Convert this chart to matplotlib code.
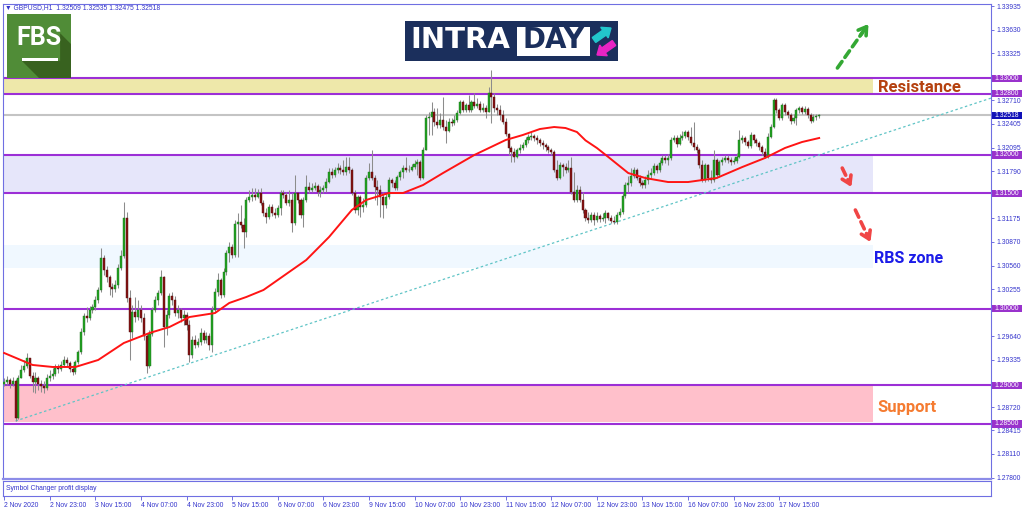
import matplotlib
matplotlib.use('Agg')
import matplotlib.pyplot as plt
import numpy as np
from matplotlib.patches import Rectangle, Polygon, FancyArrow
import matplotlib.transforms as mtransforms

# ---------------- data (prices in 1e-5 units) ----------------
first_open_p5 = 129020
close_p5 = [
    129046, 129072, 129020, 129059, 128577, 129098, 129202, 129254, 129358, 129124,
    129046, 129098, 129020, 128994, 128968, 129098, 129124, 129150, 129228, 129215,
    129267, 129332, 129293, 129215, 129176, 129306, 129436, 129696, 129905, 129879,
    129983, 130022, 130113, 130243, 130659, 130503, 130412, 130282, 130256, 130308,
    130529, 130685, 131180, 130139, 129696, 129957, 129892, 129983, 129879, 129644,
    129254, 129670, 129983, 130113, 130204, 130412, 129761, 129918, 130165, 130113,
    129944, 129983, 129879, 129918, 129787, 129397, 129592, 129527, 129566, 129683,
    129592, 129644, 129527, 129983, 130217, 130373, 130178, 130477, 130724, 130803,
    130698, 131102, 131128, 131089, 130998, 131414, 131453, 131479, 131453, 131505,
    131375, 131245, 131193, 131323, 131245, 131219, 131310, 131505, 131479, 131375,
    131414, 131115, 131505, 131414, 131219, 131414, 131583, 131544, 131570, 131596,
    131518, 131544, 131570, 131648, 131779, 131740, 131805, 131831, 131805, 131779,
    131844, 131805, 131505, 131284, 131453, 131323, 131349, 131701, 131779, 131701,
    131583, 131544, 131453, 131349, 131453, 131674, 131635, 131570, 131714, 131779,
    131831, 131805, 131805, 131844, 131883, 131909, 131701, 132065, 132481, 132494,
    132559, 132429, 132390, 132455, 132364, 132312, 132429, 132416, 132455, 132546,
    132690, 132585, 132651, 132585, 132690, 132638, 132664, 132585, 132611, 132559,
    132807, 132755, 132611, 132585, 132520, 132429, 132273, 132091, 132039, 131974,
    132065, 132091, 132130, 132195, 132234, 132247, 132221, 132195, 132156, 132130,
    132104, 132065, 132039, 131805, 131701, 131870, 131844, 131805, 131831, 131518,
    131414, 131544, 131414, 131284, 131180, 131154, 131219, 131154, 131206, 131167,
    131180, 131245, 131180, 131141, 131128, 131219, 131258, 131466, 131609, 131635,
    131727, 131805, 131701, 131635, 131609, 131674, 131740, 131766, 131857, 131805,
    131896, 131961, 131935, 131961, 132195, 132221, 132143, 132221, 132247, 132299,
    132234, 132156, 132104, 132065, 131870, 131674, 131870, 131701, 131674, 131935,
    131740, 131909, 131935, 131961, 131935, 131909, 131922, 131974, 132195, 132221,
    132169, 132117, 132260, 132195, 132156, 132104, 132039, 131974, 132234, 132364,
    132716, 132585, 132481, 132651, 132559, 132520, 132442, 132481, 132585, 132611,
    132559, 132598, 132520, 132442, 132494, 132509, 132518,
]
high_p5 = [
    129098, 129124, 129098, 129111, 129085, 129137, 129267, 129332, 129423, 129358,
    129176, 129176, 129124, 129072, 129059, 129150, 129202, 129228, 129280, 129280,
    129319, 129384, 129371, 129319, 129267, 129332, 129462, 129748, 129944, 130022,
    130035, 130061, 130165, 130282, 130790, 130698, 130555, 130438, 130334, 130373,
    130581, 130764, 131388, 131258, 130243, 130048, 130152, 130113, 130048, 129944,
    129683, 129722, 130022, 130165, 130243, 130503, 130425, 129983, 130204, 130217,
    130165, 130048, 130009, 129983, 129957, 129853, 129644, 129657, 129618, 129748,
    129722, 129696, 129683, 130035, 130269, 130464, 130399, 130529, 130764, 130868,
    130842, 131154, 131245, 131349, 131180, 131453, 131544, 131570, 131570, 131557,
    131570, 131414, 131310, 131362, 131362, 131310, 131349, 131544, 131544, 131518,
    131544, 131505, 131740, 131505, 131440, 131453, 131740, 131648, 131635, 131648,
    131622, 131596, 131609, 131701, 131831, 131831, 131844, 131896, 131870, 131935,
    131974, 131974, 131831, 131544, 131479, 131479, 131440, 131740, 131896, 132065,
    131740, 131674, 131609, 131518, 131505, 131714, 131701, 131674, 131740, 131805,
    131870, 131974, 131870, 131883, 131935, 131948, 131935, 132104, 132520, 132559,
    132690, 132611, 132611, 132546, 132755, 132455, 132481, 132481, 132520, 132585,
    132716, 132716, 132677, 132781, 132716, 132807, 132742, 132703, 132677, 132651,
    132885, 133106, 132807, 132664, 132651, 132585, 132481, 132286, 132117, 132091,
    132091, 132143, 132169, 132234, 132273, 132299, 132273, 132260, 132221, 132195,
    132156, 132130, 132091, 132065, 131935, 131909, 131896, 131896, 131935, 131974,
    131779, 131609, 131596, 131518, 131310, 131258, 131258, 131258, 131258, 131232,
    131245, 131284, 131258, 131219, 131206, 131258, 131310, 131505, 131648, 131727,
    131831, 131844, 131831, 131740, 131674, 131727, 131805, 131831, 131896, 131883,
    131935, 132000, 132000, 132013, 132234, 132260, 132260, 132273, 132312, 132325,
    132325, 132364, 132429, 132143, 132091, 131935, 131896, 131883, 131805, 132065,
    131961, 131935, 131974, 132000, 132000, 131974, 131961, 132026, 132325, 132260,
    132247, 132195, 132299, 132273, 132221, 132182, 132130, 132091, 132286, 132403,
    132742, 132742, 132611, 132677, 132677, 132585, 132546, 132533, 132611, 132638,
    132638, 132638, 132625, 132546, 132533, 132533, 132535,
]
low_p5 = [
    128994, 129007, 128968, 128994, 128538, 128564, 129098, 129176, 129228, 129098,
    128916, 128902, 128942, 128916, 128902, 128942, 129059, 129085, 129124, 129163,
    129189, 129241, 129241, 129176, 129137, 129150, 129280, 129410, 129657, 129826,
    129853, 129944, 129983, 130074, 130217, 130438, 130347, 130178, 130152, 130217,
    130269, 130503, 130659, 130087, 129332, 129618, 129826, 129853, 129826, 129592,
    129163, 129228, 129644, 129957, 130048, 130178, 129501, 129657, 129879, 130048,
    129905, 129879, 129826, 129787, 129722, 129306, 129358, 129488, 129501, 129527,
    129553, 129553, 129462, 129436, 129957, 130165, 130139, 130152, 130438, 130607,
    130659, 130672, 130672, 131050, 130790, 130933, 131388, 131401, 131414, 131440,
    131349, 131206, 131115, 131167, 131206, 131180, 131193, 131219, 131440, 131349,
    131336, 130998, 131089, 131375, 131180, 131063, 131388, 131505, 131518, 131544,
    131466, 131453, 131505, 131518, 131635, 131701, 131714, 131766, 131753, 131740,
    131740, 131766, 131479, 131245, 131219, 131193, 131258, 131323, 131674, 131674,
    131414, 131349, 131193, 131180, 131310, 131427, 131583, 131544, 131544, 131674,
    131701, 131779, 131779, 131792, 131818, 131740, 131674, 131687, 132065, 132260,
    132260, 132377, 132351, 132351, 132325, 132156, 132299, 132377, 132390, 132429,
    132533, 132559, 132559, 132559, 132559, 132611, 132611, 132559, 132559, 132481,
    132559, 132416, 132559, 132520, 132455, 132403, 132247, 132000, 131909, 131909,
    131961, 132026, 132065, 132104, 132156, 132195, 132182, 132143, 132117, 132078,
    132052, 132026, 132000, 131779, 131674, 131687, 131727, 131766, 131779, 131492,
    131388, 131388, 131388, 131245, 131141, 131115, 131128, 131089, 131128, 131128,
    131141, 131115, 131154, 131115, 131102, 131102, 131193, 131232, 131440, 131518,
    131596, 131701, 131674, 131596, 131570, 131570, 131622, 131701, 131740, 131766,
    131779, 131870, 131896, 131870, 131935, 132169, 132104, 132130, 132195, 132221,
    132195, 132130, 132065, 132026, 131831, 131648, 131648, 131661, 131635, 131648,
    131701, 131714, 131870, 131909, 131896, 131870, 131883, 131896, 131961, 132156,
    132130, 132091, 132091, 132156, 132117, 132065, 132000, 131961, 131961, 132221,
    132351, 132546, 132455, 132455, 132520, 132481, 132403, 132416, 132390, 132546,
    132533, 132533, 132481, 132416, 132429, 132455, 132475,
]

# moving average read at sample bars
ma_bars = [0, 10, 17, 25, 33, 42, 51, 58, 65, 74, 79, 85, 91, 106, 114, 122, 127, 135,
           140, 147, 154, 165, 176, 182, 188, 193, 197, 201, 204, 208, 212, 219, 225,
           233, 240, 250, 259, 267, 274, 280, 286]
ma_p5 = [129423, 129267, 129241, 129241, 129332, 129553, 129683, 129761, 129891, 129943,
         130074, 130152, 130243, 130633, 130932, 131284, 131414, 131505, 131505, 131609,
         131765, 132000, 132195, 132260, 132338, 132364, 132351, 132299, 132190, 132091,
         131974, 131765, 131700, 131648, 131648, 131700, 131843, 131961, 132091, 132169,
         132221]

tick_bars = [0, 16, 32, 48, 64, 80, 96, 112, 128, 144, 160, 176, 192, 208, 224, 240, 256, 272]
tick_labels = ['2 Nov 2020', '2 Nov 23:00', '3 Nov 15:00', '4 Nov 07:00', '4 Nov 23:00',
               '5 Nov 15:00', '6 Nov 07:00', '6 Nov 23:00', '9 Nov 15:00', '10 Nov 07:00',
               '10 Nov 23:00', '11 Nov 15:00', '12 Nov 07:00', '12 Nov 23:00', '13 Nov 15:00',
               '16 Nov 07:00', '16 Nov 23:00', '17 Nov 15:00']
price_ticks = [1.33935, 1.33630, 1.33325, 1.32710, 1.32405, 1.32095, 1.31790,
               1.31175, 1.30870, 1.30560, 1.30255, 1.29640, 1.29335,
               1.28720, 1.28415, 1.28110, 1.27800]
level_prices = [1.33000, 1.32800, 1.32000, 1.31500, 1.30000, 1.29000, 1.28500]
last_price = 1.32518
quote_text = 'GBPUSD,H1  1.32509 1.32535 1.32475 1.32518'

zone_lo = [1.32810, 1.31510, 1.30528, 1.28530]
zone_hi = [1.32990, 1.31990, 1.30828, 1.28990]
zone_colors = ['#eee8aa', '#e6e6fa', '#f0f8ff', '#ffc0cb']
zone_end_bar = 305.0

trend_bars = [4, 286]
trend_prices = [1.28538, 1.32000]

# ---------------- derived ----------------
close = np.array(close_p5) / 1e5
high = np.array(high_p5) / 1e5
low = np.array(low_p5) / 1e5
n = len(close)
assert len(high) == n and len(low) == n, (len(close), len(high), len(low))
open_ = np.concatenate([[first_open_p5 / 1e5], close[:-1]])
high = np.maximum(high, np.maximum(open_, close))
low = np.minimum(low, np.minimum(open_, close))
idx = np.arange(n)

W, H = 1024, 511
fig = plt.figure(figsize=(W / 100, H / 100), dpi=100)
fig.patch.set_facecolor('white')

frame_col = '#6f6fe2'
txt_col = '#3434cc'
tick_font = dict(family=['Liberation Sans', 'DejaVu Sans'], size=4.9)

XL = (-0.4, 346.3)
YL = (1.27783, 1.33965)

ax = fig.add_axes([3 / W, 32 / H, 988 / W, 475 / H])
ax.set_xlim(*XL)
ax.set_ylim(*YL)
ax.set_facecolor('white')

# zones
for lo, hi, c in zip(zone_lo, zone_hi, zone_colors):
    ax.add_patch(Rectangle((XL[0], lo), zone_end_bar - XL[0], hi - lo, facecolor=c,
                           edgecolor='none', zorder=1))
# level lines
for p in level_prices:
    ax.axhline(p, color='#9c2fd6', lw=1.5, zorder=2)
ax.axhline(last_price, color='#c4c4c4', lw=1.5, zorder=1.8)

# trend line
slope = (trend_prices[1] - trend_prices[0]) / (trend_bars[1] - trend_bars[0])
tx = np.array([trend_bars[0], XL[1]])
ax.plot(tx, trend_prices[0] + slope * (tx - trend_bars[0]), color='#5fc4c6', lw=0.9,
        ls=(0, (2, 2)), zorder=2.5)

# candles
ax.vlines(idx, low, high, color='#8c8c8c', lw=0.75, zorder=3)
up = close >= open_
bottom = np.minimum(open_, close)
height = np.maximum(np.abs(close - open_), 0.00003)
ax.bar(idx[up], height[up], bottom=bottom[up], width=0.72, color='#22a322',
       edgecolor='#1b6f1b', lw=0.3, zorder=4)
ax.bar(idx[~up], height[~up], bottom=bottom[~up], width=0.72, color='#861414',
       edgecolor='#4d0a0a', lw=0.3, zorder=4)

# moving average
ax.plot(ma_bars, np.array(ma_p5) / 1e5, color='#ff1414', lw=1.4, zorder=5,
        solid_joinstyle='round')

# annotations
ax.text(306.8, 1.32872, 'Resistance', family=['Roboto', 'DejaVu Sans'], weight='bold',
        fontsize=12, color='#b5410f', va='center', ha='left', zorder=6)
ax.text(305.3, 1.30659, 'RBS zone', family=['Roboto', 'DejaVu Sans'], weight='bold',
        fontsize=11.5, color='#1c1ce8', va='center', ha='left', zorder=6)
ax.text(306.4, 1.28720, 'Support', family=['Roboto', 'DejaVu Sans'], weight='bold',
        fontsize=12, color='#f57b30', va='center', ha='left', zorder=6)


def dashed_arrow(start, tip, color):
    sx, sy = start
    ex, ey = tip
    ax.annotate('', xy=(sx + (ex - sx) * 0.8, sy + (ey - sy) * 0.8), xytext=(sx, sy),
                arrowprops=dict(arrowstyle='-', lw=2.6, color=color, ls=(0, (2.2, 1.4)),
                                shrinkA=0, shrinkB=0), zorder=6)
    ax.annotate('', xy=(ex, ey), xytext=(sx + (ex - sx) * 0.75, sy + (ey - sy) * 0.75),
                arrowprops=dict(arrowstyle='->,head_length=0.55,head_width=0.35', lw=2.6,
                                color=color, shrinkA=0, shrinkB=0), zorder=6)


dashed_arrow((292.4, 1.33132), (303.3, 1.33705), '#34a834')
dashed_arrow((294.1, 1.31830), (297.3, 1.31583), '#f04545')
dashed_arrow((298.7, 1.31284), (304.0, 1.30867), '#f04545')

# axes styling
ax.set_xticks([])
ax.yaxis.tick_right()
ax.set_yticks(price_ticks)
ax.set_yticklabels(['%.5f' % p for p in price_ticks])
ax.tick_params(axis='y', direction='out', length=2.5, width=0.7, color=frame_col,
               labelcolor=txt_col, pad=1.5)
for lbl in ax.get_yticklabels():
    lbl.set_fontfamily(tick_font['family'])
    lbl.set_fontsize(tick_font['size'])
for s in ax.spines.values():
    s.set_color(frame_col)
    s.set_linewidth(0.8)
ax.spines['bottom'].set_color('#8c8ce8')
ax.spines['bottom'].set_linewidth(1.6)

# right side boxed price labels
trans = mtransforms.blended_transform_factory(ax.transAxes, ax.transData)
box_h = 7.2 * (YL[1] - YL[0]) / 475
for p, fc in [(pp, '#9932cc') for pp in level_prices] + [(last_price, '#1010b8')]:
    ax.add_patch(Rectangle((1 + 1.5 / 988, p - box_h / 2), 30 / 988, box_h, transform=trans,
                           facecolor=fc, edgecolor='none', clip_on=False, zorder=10))
    ax.text(1 + 3.8 / 988, p, '%.5f' % p, transform=trans, color='white', va='center',
            ha='left', clip_on=False, zorder=11, **tick_font)

# sub window
ax2 = fig.add_axes([3 / W, 15 / H, 988 / W, 15 / H])
ax2.set_xlim(*XL)
ax2.set_ylim(0, 1)
ax2.set_yticks([])
ax2.set_xticks(tick_bars)
ax2.set_xticklabels(tick_labels)
ax2.tick_params(axis='x', direction='out', length=3, width=0.7, color=frame_col,
                labelcolor=txt_col, pad=1.2)
for lbl in ax2.get_xticklabels():
    lbl.set_ha('left')
    lbl.set_fontfamily(tick_font['family'])
    lbl.set_fontsize(tick_font['size'])
for s in ax2.spines.values():
    s.set_color(frame_col)
    s.set_linewidth(0.8)
ax2.text(0.003, 0.5, 'Symbol Changer profit display', transform=ax2.transAxes,
         va='center', ha='left', color=txt_col, **tick_font)

# title line
fig.text(5 / W, 1 - 7.5 / H, '\u25bc ' + quote_text, color=txt_col, va='center', ha='left',
         family=['Liberation Sans', 'DejaVu Sans'], size=4.9)

# FBS logo
la = fig.add_axes([7 / W, (H - 78) / H, 64 / W, 64 / H])
la.set_xlim(0, 1)
la.set_ylim(0, 1)
la.axis('off')
la.add_patch(Rectangle((0, 0), 1, 1, facecolor='#508c37', edgecolor='none'))
la.add_patch(Polygon([(0.23, 0.27), (0.83, 0.27), (0.83, 0.70), (1.0, 0.53), (1.0, 0.0),
                      (0.5, 0.0)], closed=True, facecolor='#38621f', edgecolor='none'))
la.text(0.50, 0.62, 'FBS', color='white', weight='bold', fontsize=18,
        family=['Liberation Sans Narrow', 'Roboto', 'DejaVu Sans'], ha='center', va='center')
la.add_patch(Rectangle((0.23, 0.26), 0.56, 0.045, facecolor='white', edgecolor='none'))

# INTRADAY logo
ia = fig.add_axes([405 / W, (H - 61) / H, 213 / W, 40 / H])
ia.set_xlim(0, 213)
ia.set_ylim(40, 0)
ia.axis('off')
ia.add_patch(Rectangle((0, 0), 213, 40, facecolor='#1b2f5c', edgecolor='none'))
ia.add_patch(Rectangle((112, 6), 73, 29, facecolor='white', edgecolor='none'))
ia.text(5, 19, 'INTRA', color='white', weight='bold', fontsize=21, family='DejaVu Sans',
        ha='left', va='center')
ia.text(148.5, 19, 'DAY', color='#1b2f5c', weight='bold', fontsize=20, family='DejaVu Sans',
        ha='center', va='center')
ia.add_patch(FancyArrow(189, 19, 17, -12, width=6, head_width=13, head_length=8,
                        length_includes_head=True, color='#22c6cc'))
ia.add_patch(FancyArrow(209, 22, -17, 12, width=6, head_width=13, head_length=8,
                        length_includes_head=True, color='#e824c4'))

fig.savefig('out.png', dpi=100, facecolor='white')
